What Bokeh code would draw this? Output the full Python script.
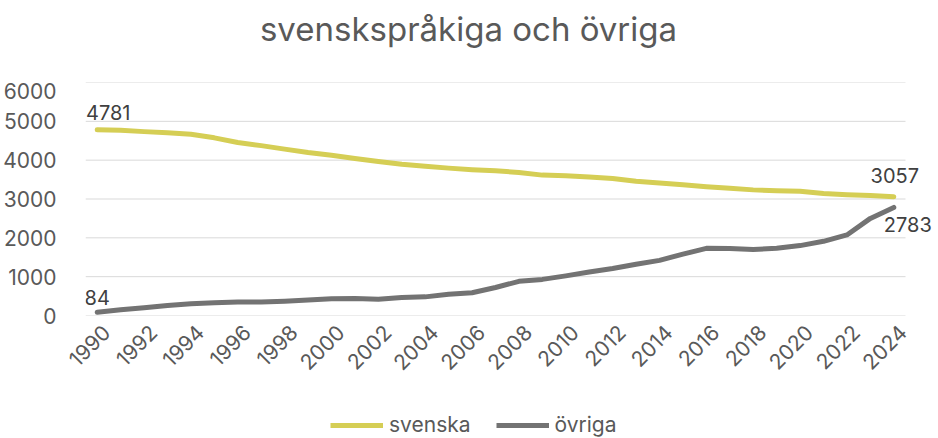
import math
from bokeh.plotting import figure
from bokeh.layouts import column
from bokeh.models import Range1d, Legend, LegendItem, FixedTicker, Label, ColumnDataSource
from bokeh.embed import file_html
from bokeh.resources import INLINE

years = list(range(1990, 2025))
svenska = [4781, 4770, 4735, 4705, 4665, 4575, 4455, 4375, 4285, 4195,
           4125, 4045, 3965, 3895, 3845, 3795, 3755, 3725, 3685, 3615,
           3600, 3565, 3530, 3455, 3415, 3365, 3315, 3275, 3235, 3215,
           3200, 3140, 3110, 3090, 3057]
ovriga = [84, 150, 200, 260, 305, 330, 345, 350, 370, 400,
          430, 440, 420, 465, 480, 550, 585, 720, 880, 930,
          1020, 1120, 1210, 1320, 1420, 1580, 1730, 1725, 1700, 1730,
          1800, 1910, 2075, 2500, 2783]
x_tick_labels = [str(y) for y in range(1990, 2025, 2)]
y_ticks = [0, 1000, 2000, 3000, 4000, 5000, 6000]
series_names = ["svenska", "övriga"]
title_text = "svenskspråkiga och övriga"

FONT = "Inter"
TXT = "#595959"
YEL = "#D5CE55"
GRY = "#737373"

W = 938
H_TOP, H_LEG = 82, 34
H_MAIN = 438 - H_TOP - H_LEG
FL, FR = 85, 938
FRAME_H = 315 - 82
pxy = 820 / 35.0
x0 = 1989.5
x1 = x0 + (FR - FL) / pxy
LABEL_SHIFT = 9 / pxy   # rotated labels sit slightly right of their category

def strip(h):
    f = figure(width=W, height=h, output_backend="svg", toolbar_location=None,
               x_range=Range1d(0, FR - FL), y_range=Range1d(0, h),
               x_axis_location=None, y_axis_location=None,
               min_border_left=0, min_border_right=0, min_border_top=0, min_border_bottom=0)
    f.grid.visible = False
    f.outline_line_color = None
    f.background_fill_color = "white"
    f.border_fill_color = "white"
    return f

# title strip (frame aligned with the chart frame by the column layout)
tf = strip(H_TOP)
tf.add_layout(Label(x=468 - FL, y=H_TOP - 28, text=title_text, text_align="center",
                    text_baseline="middle", text_font=FONT, text_font_size="33px",
                    text_color=TXT))

p = figure(width=W, height=H_MAIN, output_backend="svg", toolbar_location=None,
           x_range=Range1d(x0, x1), y_range=Range1d(0, 6000),
           min_border_left=FL, min_border_right=W - FR, min_border_top=0,
           min_border_bottom=H_MAIN - FRAME_H)
p.outline_line_color = None
p.background_fill_color = "white"
p.border_fill_color = "white"

# horizontal gridlines limited to the category area
p.segment(x0=[x0] * len(y_ticks), x1=[x0 + 35] * len(y_ticks), y0=y_ticks, y1=y_ticks,
          line_color="#D9D9D9", line_width=1)

src = ColumnDataSource(dict(x=years, s=svenska, o=ovriga))
p.line("x", "s", source=src, line_color=YEL, line_width=5, line_join="round", line_cap="round")
p.line("x", "o", source=src, line_color=GRY, line_width=5, line_join="round", line_cap="round")

tick_pos = [int(s) + LABEL_SHIFT for s in x_tick_labels]
p.xaxis.ticker = FixedTicker(ticks=tick_pos)
p.xaxis.major_label_overrides = {tp: s for tp, s in zip(tick_pos, x_tick_labels)}
p.yaxis.ticker = FixedTicker(ticks=y_ticks)
p.xaxis.major_label_orientation = math.pi / 4
for ax in (p.xaxis[0], p.yaxis[0]):
    ax.axis_line_color = None
    ax.major_tick_line_color = None
    ax.minor_tick_line_color = None
    ax.major_label_text_font = FONT
    ax.major_label_text_font_size = "21px"
    ax.major_label_text_color = TXT
p.yaxis.major_label_standoff = 23
p.xaxis.major_label_standoff = 7
p.xgrid.grid_line_color = None
p.ygrid.grid_line_color = None

def lab(x, y, text, xo, yo):
    p.add_layout(Label(x=x, y=y, text=text, x_offset=xo, y_offset=yo, text_align="center",
                       text_baseline="middle", text_font=FONT, text_font_size="20px",
                       text_color="#404040"))

lab(years[0], svenska[0], str(svenska[0]), 11, 17)
lab(years[0], ovriga[0], str(ovriga[0]), 0, 15)
lab(years[-1], svenska[-1], str(svenska[-1]), 1, 21)
lab(years[-1], ovriga[-1], str(ovriga[-1]), 14, -17)

# legend strip
q = strip(H_LEG)
l1 = q.line(x=years, y=svenska, line_color=YEL, line_width=5)
l2 = q.line(x=years, y=ovriga, line_color=GRY, line_width=5)
legend = Legend(items=[LegendItem(label=series_names[0], renderers=[l1]),
                       LegendItem(label=series_names[1], renderers=[l2])],
                orientation="horizontal", location=(330 - FL, 1),
                label_text_font=FONT, label_text_font_size="21px", label_text_color=TXT,
                label_text_line_height=1.0, label_height=20,
                glyph_width=53, glyph_height=20, spacing=25, label_standoff=6,
                border_line_color=None, background_fill_alpha=0, margin=0, padding=0)
q.add_layout(legend, "center")

layout = column(tf, p, q, spacing=0)
open("out.html", "w").write(file_html(layout, INLINE))
